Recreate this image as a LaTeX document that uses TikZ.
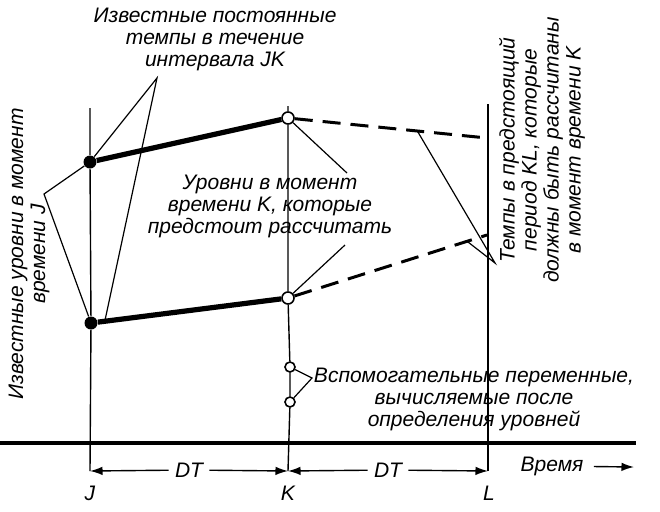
\documentclass[tikz,border=0pt]{standalone}
\usepackage{fontspec}
\setmainfont{Liberation Sans}
\usetikzlibrary{positioning, calc}
\usetikzlibrary{arrows.meta}
\tikzset{>={Latex[width=1.5mm,length=2.2mm]}}

\begin{document}
\begin{tikzpicture}[x=0.5pt, y=-0.5pt, dot/.style={circle, fill=black, inner sep=0pt, minimum size=6.5pt}, hole/.style={circle, draw=black, fill=white, line width=0.8pt, inner sep=0pt, minimum size=6pt}, smallhole/.style={circle, draw=black, fill=white, line width=0.8pt, inner sep=0pt, minimum size=5pt}, note/.style={font=\itshape\fontsize{10.5}{11}\selectfont, align=center, inner sep=0pt}, known/.style={line width=2.6pt}, future/.style={line width=1.5pt, dash pattern=on 9pt off 5pt}, leader/.style={line width=0.6pt}, grid line/.style={line width=0.7pt}]
    \useasboundingbox (0,0) rectangle (660,511);

    %Nodes
    \node[dot](J1) at (90,162){};
    \node[dot](J2) at (91,323){};
    \node[hole](K1) at (288,118){};
    \node[hole](K2) at (288,298){};
    \node[smallhole](A1) at (290,367){};
    \node[smallhole](A2) at (290,402){};
    \coordinate (L1) at (487,138);
    \coordinate (L2) at (487,235);
    \coordinate (Jtop) at (90,108);
    \coordinate (Jbot) at (90,471);
    \coordinate (Ktop) at (288,106);
    \coordinate (Kbot) at (288,471);
    \coordinate (Ltop) at (488,104);
    \coordinate (Lbot) at (488,471);
    \coordinate (axisW) at (0,443);
    \coordinate (axisE) at (636,443);

    \node[note](rates) at (215,39){Известные постоянные\\темпы в течение\\интервала JK};
    \node[note, rotate=90](levelsJ) at (29,254){Известные уровни в момент\\времени J};
    \node[note](levelsK) at (270,206){Уровни в момент\\времени K, которые\\предстоит рассчитать};
    \node[note, rotate=90](ratesKL) at (542,150){Темпы в предстоящий\\период KL, которые\\должны быть рассчитаны\\в момент времени K};
    \node[note](aux) at (474,399){Вспомогательные переменные,\\вычисляемые после\\определения уровней};

    \node[note, fill=white, inner xsep=3pt](DT1) at (189,470){DT};
    \node[note, fill=white, inner xsep=3pt](DT2) at (388,470){DT};
    \node[note](time) at (552,466){Время};
    \coordinate (timeEnd) at (634,467);
    \node[note](labJ) at (90,493){J};
    \node[note](labK) at (288,493){K};
    \node[note](labL) at (489,493){L};

    \coordinate (ratesFan) at (157,78);
    \coordinate (levelsJFan) at (44,194);
    \coordinate (levelsKup) at (347,173);
    \coordinate (levelsKdown) at (345,245);
    \coordinate (ratesKLFan) at (495,263);
    \coordinate (auxFan) at (312,378);

    %Lines
    \draw[grid line] (Jtop) -- (J1) -- (J2) -- (Jbot);
    \draw[grid line] (Ktop) -- (K1) -- (K2) -- (A1) -- (A2) -- (Kbot);
    \draw[grid line] (Ltop) -- (Lbot);
    \draw[line width=2pt] (axisW) -- (axisE);

    \draw[known] (J1) -- (K1);
    \draw[known] (J2) -- (K2);
    \draw[future] (K1) -- (L1);
    \draw[future] (K2) -- (L2);

    \draw[leader] (J1) -- (ratesFan) -- ($(J2)!0.07!(K2)$);
    \draw[leader] (J1) -- (levelsJFan) -- (J2);
    \draw[leader] (K1) -- (levelsKup);
    \draw[leader] (K2) -- (levelsKdown);
    \draw[leader] ($(K1)!0.65!(L1)$) -- (ratesKLFan) -- ($(K2)!0.9!(L2)$);
    \draw[leader] (A1) -- (auxFan) -- (A2);

    \draw[->, grid line] (DT1) -- (Jbot);
    \draw[->, grid line] (DT1) -- (Kbot);
    \draw[->, grid line] (DT2) -- (Kbot);
    \draw[->, grid line] (DT2) -- (Lbot);
    \draw[->, grid line, shorten <=5pt] (time) -- (timeEnd);

\end{tikzpicture}
\end{document}
